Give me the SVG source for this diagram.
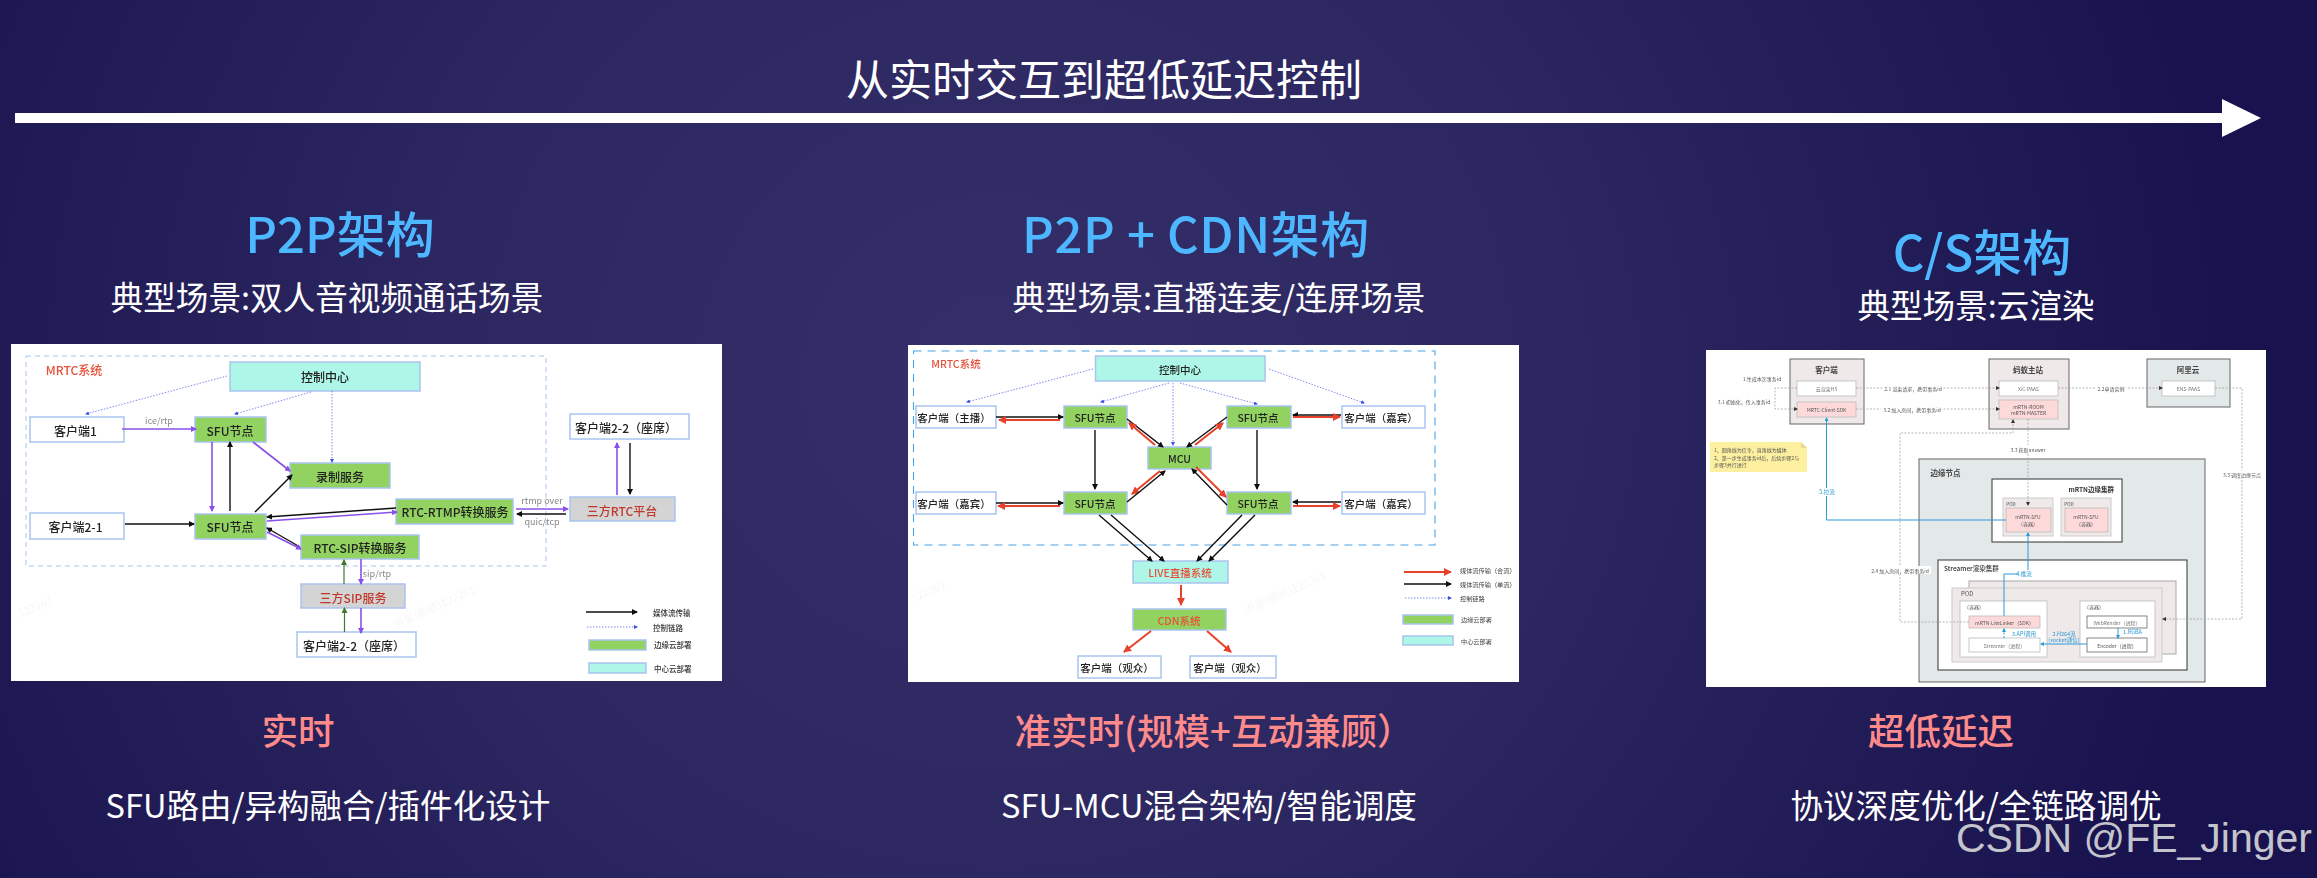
<svg xmlns="http://www.w3.org/2000/svg" width="2317" height="878" viewBox="0 0 2317 878">
<style>
text{font-family:"Noto Sans CJK SC","Noto Sans",sans-serif;dominant-baseline:central;text-anchor:middle}
.h{font-weight:500;fill:#4db8ff;font-size:49px;dominant-baseline:auto}
.w32{fill:#fff;font-size:32.6px;dominant-baseline:auto}
.pk{fill:#ff8a8a;font-weight:500;font-size:36.5px;dominant-baseline:auto}
.p{fill:#fff}
.l{stroke:#a9c4ee;stroke-width:1.5;fill:#fff}
.g{stroke:#a9c4ee;stroke-width:1.5;fill:#92d260}
.c{stroke:#a9c4ee;stroke-width:1.5;fill:#aef7e8}
.gy{stroke:#a9c4ee;stroke-width:1.5;fill:#d4d4d4}
.t12{font-size:12px;fill:#222;font-weight:500}
.t10{font-size:10.5px;fill:#222;font-weight:500}
.r{fill:#c0392b}.rr{fill:#e8503a}
.lab{font-size:9px;fill:#888}
.lg{font-size:7.5px;fill:#333;text-anchor:start;font-weight:500}
.lg2{font-size:6.2px;fill:#444;text-anchor:start}
.wm{font-size:11px;fill:#000;opacity:.035}
.cn{fill:none;stroke-linecap:butt}
.bk{stroke:#111;stroke-width:1.4;marker-end:url(#mb)}
.pu{stroke:#8a4fe8;stroke-width:1.6;marker-end:url(#mp)}
.gr{stroke:#3f7a2f;stroke-width:1.2;marker-end:url(#mg)}
.re{stroke:#e8402a;stroke-width:2;marker-end:url(#mr)}
.dt{stroke:#5a6ee8;stroke-width:.8;stroke-dasharray:1.5 1.5;marker-end:url(#md)}
.ds{stroke:#999;stroke-width:.7;stroke-dasharray:2 1.5;fill:none;marker-end:url(#mk)}
.bl{stroke:#2a9ad6;stroke-width:1;fill:none;marker-end:url(#ml)}
.bx{stroke:#666;stroke-width:1;fill:#efe9e9}
.by{stroke:#666;stroke-width:1;fill:#e3e8e8}
.wh{stroke:#bbb;stroke-width:.8;fill:#fff}
.pkb{stroke:#bbb;stroke-width:.8;fill:#fdd9d9}
.s5{font-size:5px;fill:#777}
.s5d{font-size:5px;fill:#555}
.s7{font-size:7.5px;fill:#444;font-weight:700}
.bt{font-size:5.5px;fill:#2a9ad6}
.bg{fill:#fff}
</style>
<defs>
<radialGradient id="bgg" gradientUnits="userSpaceOnUse" cx="1000" cy="380" r="1250" gradientTransform="translate(1000 380) scale(1 .95) translate(-1000 -380)">
<stop offset="0" stop-color="#352f69"/><stop offset=".45" stop-color="#2c2760"/><stop offset="1" stop-color="#18124e"/>
</radialGradient>
<filter id="bl1" x="-2%" y="-2%" width="104%" height="104%"><feGaussianBlur stdDeviation=".35"/></filter>
<filter id="bl3" x="-2%" y="-2%" width="104%" height="104%"><feGaussianBlur stdDeviation=".55"/></filter>
<marker id="mb" markerWidth="6" markerHeight="6" refX="5" refY="3" orient="auto" markerUnits="userSpaceOnUse"><path d="M0 0L6 3L0 6z" fill="#111"/></marker>
<marker id="mp" markerWidth="6" markerHeight="6" refX="5" refY="3" orient="auto" markerUnits="userSpaceOnUse"><path d="M0 0L6 3L0 6z" fill="#8a4fe8"/></marker>
<marker id="mg" markerWidth="6" markerHeight="6" refX="5" refY="3" orient="auto" markerUnits="userSpaceOnUse"><path d="M0 0L6 3L0 6z" fill="#3f7a2f"/></marker>
<marker id="mr" markerWidth="8" markerHeight="8" refX="7" refY="4" orient="auto" markerUnits="userSpaceOnUse"><path d="M0 0L8 4L0 8z" fill="#e8402a"/></marker>
<marker id="md" markerWidth="4" markerHeight="4" refX="3" refY="2" orient="auto" markerUnits="userSpaceOnUse"><path d="M0 0L4 2L0 4z" fill="#3a50e8"/></marker>
<marker id="mk" markerWidth="4" markerHeight="4" refX="3" refY="2" orient="auto" markerUnits="userSpaceOnUse"><path d="M0 0L4 2L0 4z" fill="#333"/></marker>
<marker id="ml" markerWidth="4" markerHeight="4" refX="3" refY="2" orient="auto" markerUnits="userSpaceOnUse"><path d="M0 0L4 2L0 4z" fill="#2a9ad6"/></marker>
</defs>
<rect width="2317" height="878" fill="url(#bgg)"/>

<g id="timeline">
<text x="1104" y="77" font-size="43" class="p">从实时交互到超低延迟控制</text>
<polygon class="p" points="15,113 2222,113 2222,99 2261,118 2222,137 2222,123 15,123"/>
</g>

<g id="headers">
<text x="340" y="253" class="h">P2P架构</text>
<text x="327" y="310" class="w32">典型场景:双人音视频通话场景</text>
<text x="1196" y="253" class="h" letter-spacing=".6">P2P + CDN架构</text>
<text x="1219" y="310" class="w32">典型场景:直播连麦/连屏场景</text>
<text x="1982" y="271" class="h">C/S架构</text>
<text x="1976" y="318" class="w32">典型场景:云渲染</text>
</g>

<g id="panel1" filter="url(#bl1)">
<rect x="11" y="344" width="711" height="337" fill="#fff"/>
<text class="wm" transform="translate(434 606) rotate(-24)">尹星(鹏航)122261</text>
<text class="wm" transform="translate(35 606) rotate(-24)">122261</text>
<rect x="26" y="356" width="520" height="210" fill="none" stroke="#a9c4ee" stroke-width="1" stroke-dasharray="5 4"/>
<text x="74" y="369" font-size="12" class="rr" font-weight="500">MRTC系统</text>
<g id="p1-ctrl"><rect x="230" y="362" width="190" height="29" class="c"/><text x="325" y="376" class="t12">控制中心</text></g>
<g id="p1-c1"><rect x="30" y="417" width="94" height="25" class="l"/><text x="75.500" y="430" class="t12">客户端1</text></g>
<g id="p1-sfu1"><rect x="195" y="417" width="71" height="25" class="g"/><text x="230" y="430" class="t12">SFU节点</text></g>
<g id="p1-c21"><rect x="30" y="513" width="94" height="26" class="l"/><text x="75.500" y="526" class="t12">客户端2-1</text></g>
<g id="p1-sfu2"><rect x="195" y="514" width="71" height="25" class="g"/><text x="230" y="526" class="t12">SFU节点</text></g>
<g id="p1-rec"><rect x="290" y="463" width="100" height="25" class="g"/><text x="340" y="476" class="t12">录制服务</text></g>
<g id="p1-rtmp"><rect x="396" y="499" width="117" height="25" class="g"/><text x="455" y="511" class="t12">RTC-RTMP转换服务</text></g>
<g id="p1-sip"><rect x="301" y="535" width="118" height="24" class="g"/><text x="360" y="547" class="t12">RTC-SIP转换服务</text></g>
<g id="p1-3rtc"><rect x="570" y="497" width="105" height="24" class="gy"/><text x="622" y="510" class="t12 r">三方RTC平台</text></g>
<g id="p1-c22a"><rect x="570" y="414" width="119" height="25" class="l"/><text x="626" y="427" class="t12">客户端2-2（座席）</text></g>
<g id="p1-3sip"><rect x="301" y="584" width="104" height="24" class="gy"/><text x="353" y="597" class="t12 r">三方SIP服务</text></g>
<g id="p1-c22b"><rect x="297" y="632" width="119" height="25" class="l"/><text x="354" y="645" class="t12">客户端2-2（座席）</text></g>
<g id="p1-connectors" class="cn">
<path class="dt" d="M227 376L86 414"/><path class="dt" d="M311 392L235 414"/><path class="dt" d="M332 391V462"/>
<path class="pu" d="M122 429H196"/>
<path class="pu" d="M212 442V511"/><path class="bk" d="M230 511V442"/>
<path class="pu" d="M253 442L290 471"/><path class="bk" d="M255 512L292 475"/>
<path class="bk" d="M125 524H194"/>
<path class="bk" d="M396 508L267 517"/><path class="pu" d="M267 521L397 512"/>
<path class="bk" d="M300 547L267 528"/><path class="pu" d="M267 532L301 549"/>
<path class="pu" d="M516 509H568"/><path class="bk" d="M566 514H517"/>
<path class="pu" d="M617 495V443"/><path class="bk" d="M630 443V494"/>
<path class="gr" d="M344 584V560"/><path class="pu" d="M361 559V584"/>
<path class="gr" d="M344.500 632V608"/><path class="pu" d="M361 608V633"/>
</g>
<text x="159" y="420" class="lab">ice/rtp</text>
<text x="542" y="500" class="lab">rtmp  over</text>
<text x="542" y="521" class="lab">quic/tcp</text>
<text x="377" y="573" class="lab">sip/rtp</text>
<g id="p1-legend">
<path class="cn bk" d="M586 612H637"/><text x="653" y="612" class="lg">媒体流传输</text>
<path class="cn dt" d="M587 627H637"/><text x="653" y="627" class="lg">控制链路</text>
<rect x="589" y="640" width="57" height="10" class="g"/><text x="654" y="644" class="lg">边缘云部署</text>
<rect x="589" y="663" width="57" height="10" class="c"/><text x="654" y="668" class="lg">中心云部署</text>
</g>
</g>

<g id="panel2" filter="url(#bl1)">
<rect x="908" y="345" width="611" height="337" fill="#fff"/>
<text class="wm" transform="translate(1285 592) rotate(-24)">尹星(鹏航)122261</text>
<text class="wm" transform="translate(928 590) rotate(-24)">122261</text>
<rect x="913.500" y="351" width="521.500" height="194" fill="none" stroke="#4aa3e8" stroke-width="1.1" stroke-dasharray="8 6"/>
<text x="956" y="363" font-size="10.500" class="rr" font-weight="500">MRTC系统</text>
<g id="p2-ctrl"><rect x="1095.500" y="356" width="169.500" height="25" class="c" fill="#9ff8e8"/><text x="1180" y="369" class="t10">控制中心</text></g>
<g id="p2-host"><rect x="916" y="406" width="80" height="22" class="l"/><text x="954" y="417" class="t10">客户端（主播）</text></g>
<g id="p2-sfu1"><rect x="1064" y="406" width="63" height="22" class="g"/><text x="1095" y="417" class="t10">SFU节点</text></g>
<g id="p2-sfu2"><rect x="1227" y="406" width="64" height="22" class="g"/><text x="1258" y="417" class="t10">SFU节点</text></g>
<g id="p2-g1"><rect x="1342" y="406" width="83" height="22" class="l"/><text x="1381" y="417" class="t10">客户端（嘉宾）</text></g>
<g id="p2-mcu"><rect x="1148" y="447" width="63" height="22" class="g"/><text x="1179.500" y="458" class="t10">MCU</text></g>
<g id="p2-g2"><rect x="916" y="492" width="80" height="22" class="l"/><text x="954" y="503" class="t10">客户端（嘉宾）</text></g>
<g id="p2-sfu3"><rect x="1064" y="492" width="63" height="22" class="g"/><text x="1095" y="503" class="t10">SFU节点</text></g>
<g id="p2-sfu4"><rect x="1227" y="492" width="64" height="22" class="g"/><text x="1258" y="503" class="t10">SFU节点</text></g>
<g id="p2-g3"><rect x="1342" y="492" width="83" height="22" class="l"/><text x="1381" y="503" class="t10">客户端（嘉宾）</text></g>
<g id="p2-live"><rect x="1133" y="561" width="95" height="22" class="c"/><text x="1180" y="572" class="t10 rr">LIVE直播系统</text></g>
<g id="p2-cdn"><rect x="1133" y="609" width="93" height="21" class="g"/><text x="1179" y="620" class="t10 rr">CDN系统</text></g>
<g id="p2-v1"><rect x="1078" y="656" width="83" height="22" class="l"/><text x="1117" y="667" class="t10">客户端（观众）</text></g>
<g id="p2-v2"><rect x="1190" y="656" width="86" height="22" class="l"/><text x="1230" y="667" class="t10">客户端（观众）</text></g>
<g id="p2-connectors" class="cn">
<path class="dt" d="M1093 369L967 402"/><path class="dt" d="M1169 383L1101 402"/><path class="dt" d="M1173 383V445"/><path class="dt" d="M1180 383L1257 404"/><path class="dt" d="M1269 369L1364 403"/>
<path class="bk" d="M996 417H1063"/><path class="re" d="M1060 420H999"/>
<path class="bk" d="M1127 419L1163 447"/><path class="re" d="M1155 445L1129 423"/>
<path class="bk" d="M1227 417L1187 447"/><path class="re" d="M1195 445L1223 423"/>
<path class="bk" d="M1341 415H1293"/><path class="re" d="M1293 417H1340"/>
<path class="bk" d="M1095 430V489"/><path class="bk" d="M1257 430V489"/>
<path class="re" d="M1160 471L1132 494"/><path class="bk" d="M1127 502L1165 471"/>
<path class="re" d="M1196 467L1226 497"/><path class="bk" d="M1227 505L1192 469"/>
<path class="bk" d="M996 503H1063"/><path class="re" d="M1060 506H998"/>
<path class="bk" d="M1341 502H1293"/><path class="re" d="M1293 506H1340"/>
<path class="bk" d="M1099 515L1152 561"/><path class="bk" d="M1111 515L1164 561"/>
<path class="bk" d="M1242 515L1197 561"/><path class="bk" d="M1255 515L1209 561"/>
<path class="re" d="M1181 585V605"/>
<path class="re" d="M1151 631L1124 652"/><path class="re" d="M1207 631L1231 652"/>
</g>
<g id="p2-legend">
<path class="cn re" d="M1404 572H1451"/><text x="1460" y="570" class="lg2">媒体流传输（合流）</text>
<path class="cn bk" d="M1404 584H1451"/><text x="1460" y="584" class="lg2">媒体流传输（单流）</text>
<path class="cn dt" d="M1405 598H1451"/><text x="1460" y="598" class="lg2">控制链路</text>
<rect x="1403" y="615" width="50" height="9" class="g"/><text x="1461" y="619" class="lg2">边缘云部署</text>
<rect x="1403" y="636" width="50" height="9" class="c"/><text x="1461" y="641" class="lg2">中心云部署</text>
</g>
</g>

<g id="panel3" filter="url(#bl3)">
<rect x="1706" y="350" width="560" height="337" fill="#fff"/>
<g id="p3-edge"><rect x="1919" y="459" width="286" height="223" class="by"/><text x="1945.500" y="472" class="s7">边缘节点</text></g>
<g id="p3-client"><rect x="1790" y="359" width="74" height="65" class="bx"/><text x="1826.500" y="369" class="s7">客户端</text></g>
<g id="p3-h5"><rect x="1797" y="381" width="59" height="15" class="wh"/><text x="1826.500" y="388" class="s5">云渲染H5</text></g>
<g id="p3-sdk"><rect x="1797" y="402" width="59" height="15" class="pkb"/><text x="1826.500" y="409" class="s5d">MRTC-Client-SDK</text></g>
<g id="p3-main"><rect x="1989" y="359" width="80" height="70" class="bx"/><text x="2028" y="369" class="s7">蚂蚁主站</text></g>
<g id="p3-xic"><rect x="1999" y="381" width="59" height="15" class="wh"/><text x="2028.500" y="388" class="s5">XiC-PAAS</text></g>
<g id="p3-room"><rect x="1999" y="400" width="59" height="19" class="pkb"/><text x="2028.500" y="406" class="s5d">mRTN-ROOM</text><text x="2028.500" y="412.500" class="s5d">mRTN-MASTER</text></g>
<g id="p3-ali"><rect x="2147" y="359" width="83" height="48" class="by"/><text x="2188" y="369" class="s7">阿里云</text></g>
<g id="p3-ens"><rect x="2162" y="381" width="53" height="15" class="wh"/><text x="2188.500" y="388" class="s5">ENS-PAAS</text></g>
<g id="p3-note"><polygon points="1710,442 1801,442 1807,448 1807,472 1710,472" fill="#fdf0a0"/><polygon points="1801,442 1807,448 1801,448" fill="#e8d890"/>
<text x="1714" y="449" class="s5d" style="text-anchor:start">1、圆角线为信令，直角线为媒体</text>
<text x="1714" y="457" class="s5d" style="text-anchor:start">2、第一步生成事务id后，后续步骤2与</text>
<text x="1714" y="464" class="s5d" style="text-anchor:start">步骤3并行进行</text></g>
<g id="p3-cluster"><rect x="1992" y="479" width="130" height="63" fill="#fff" stroke="#333" stroke-width="1"/><text x="2114" y="489" font-size="6.500" fill="#333" font-weight="700" style="text-anchor:end">mRTN边缘集群</text></g>
<g id="p3-pod1"><rect x="2003" y="498" width="50" height="38" class="bx" style="stroke:#ccc"/><text x="2011" y="504" font-size="4.500" fill="#444">POD</text><rect x="2006" y="508" width="45" height="24" class="pkb"/><text x="2028" y="516" class="s5d">mRTN-SFU</text><text x="2028" y="523" class="s5d">（容器）</text></g>
<g id="p3-pod2"><rect x="2061" y="498" width="50" height="38" class="bx" style="stroke:#ccc"/><text x="2069" y="504" font-size="4.500" fill="#444">POD</text><rect x="2065" y="508" width="43" height="24" class="pkb"/><text x="2086" y="516" class="s5d">mRTN-SFU</text><text x="2086" y="523" class="s5d">（容器）</text></g>
<g id="p3-streamer"><rect x="1938" y="560" width="249" height="110" fill="#fff" stroke="#333" stroke-width="1"/><text x="1944" y="568" font-size="6.500" fill="#333" font-weight="500" style="text-anchor:start">Streamer渲染集群</text></g>
<rect x="1969" y="581" width="207" height="73" class="bx" style="stroke:#aaa"/>
<g id="p3-pod"><rect x="1952" y="588" width="210" height="74" class="bx" style="stroke:#ccc"/><text x="1961" y="593" font-size="6" fill="#555" style="text-anchor:start">POD</text></g>
<g id="p3-box-l"><rect x="1960" y="601" width="87" height="56" class="wh"/><text x="1974" y="606" class="s5d">（容器）</text></g>
<g id="p3-lite"><rect x="1969" y="616" width="71" height="12" class="pkb"/><text x="2004.500" y="622" class="s5d">mRTN-LiteLinker（SDK）</text></g>
<g id="p3-str"><rect x="1969" y="638" width="71" height="14" class="wh"/><text x="2004.500" y="645" class="s5">Streamer（进程）</text></g>
<g id="p3-box-r"><rect x="2080" y="601" width="75" height="56" class="wh"/><text x="2094" y="606" class="s5d">（容器）</text></g>
<g id="p3-web"><rect x="2087" y="616" width="60" height="12" class="wh" style="stroke:#666"/><text x="2117" y="622" class="s5">WebRender（进程）</text></g>
<g id="p3-enc"><rect x="2087" y="638" width="60" height="14" class="wh" style="stroke:#666"/><text x="2117" y="645" class="s5d">Encoder（进程）</text></g>
<g id="p3-connectors">
<path class="ds" d="M1797 388H1775V409H1797"/>
<path class="ds" d="M1856 388H1999"/><path class="ds" d="M1856 409H1999"/><path class="ds" d="M2058 388H2162"/>
<path class="ds" d="M2215 388H2242V619H2163"/>
<path class="ds" d="M1969 622H1900V433H2013V420"/>
<path class="ds" d="M2028 419V505"/>
<path class="bl" d="M2006 520H1826.500V418"/>
<path class="bl" d="M2004 616V574H2028V533"/>
<path class="bl" style="stroke-dasharray:2 1.500" d="M2004 638V629"/>
<path class="bl" d="M2087 644H2041"/><path class="bl" d="M2118 628V638"/>
</g>
<text x="1762" y="378" class="s5d">1.生成本次事务id</text>
<text x="1744" y="401" class="s5d">3.1 初始化，传入事务id</text>
<rect x="1883" y="384" width="60" height="8" class="bg"/><text x="1913" y="388" class="s5d">2.1 渲染请求，携带事务id</text>
<rect x="1881" y="405" width="62" height="8" class="bg"/><text x="1912" y="409" class="s5d">3.2 加入房间，携带事务id</text>
<rect x="2096" y="384" width="30" height="8" class="bg"/><text x="2111" y="388" class="s5d">2.2申请实例</text>
<rect x="2220" y="470" width="44" height="8" class="bg"/><text x="2242" y="474" class="s5d">3.3 调度边缘节点</text>
<rect x="1869" y="566" width="62" height="8" class="bg"/><text x="1900" y="570" class="s5d">2.4 加入房间，携带事务id</text>
<rect x="2010" y="445" width="37" height="8" class="bg"/><text x="2028" y="449" class="s5d">3.3 获取answer</text>
<rect x="1819" y="488" width="16" height="8" class="bg"/><text x="1827" y="492" class="bt">5.拉流</text>
<rect x="2018" y="570" width="15" height="8" class="bg"/><text x="2024" y="574" class="bt">4.推流</text>
<text x="2024" y="634" class="bt">3.API调用</text>
<text x="2064" y="634" class="bt">2.H264流</text>
<text x="2064" y="640" class="bt">(socket通信)</text>
<text x="2132.500" y="632" class="bt">1.RGBA</text>
</g>

<g id="footers">
<text x="298" y="745" class="pk">实时</text>
<text x="1214" y="745" class="pk">准实时(规模+互动兼顾）</text>
<text x="1941" y="745" class="pk">超低延迟</text>
<text x="328" y="818" class="w32">SFU路由/异构融合/插件化设计</text>
<text x="1209" y="818" class="w32">SFU-MCU混合架构/智能调度</text>
<text x="1976" y="818" class="w32">协议深度优化/全链路调优</text>
</g>
<text x="2134" y="838" font-size="41" fill="#c4c4cc" style="font-family:'Liberation Sans',sans-serif">CSDN @FE_Jinger</text>
</svg>
